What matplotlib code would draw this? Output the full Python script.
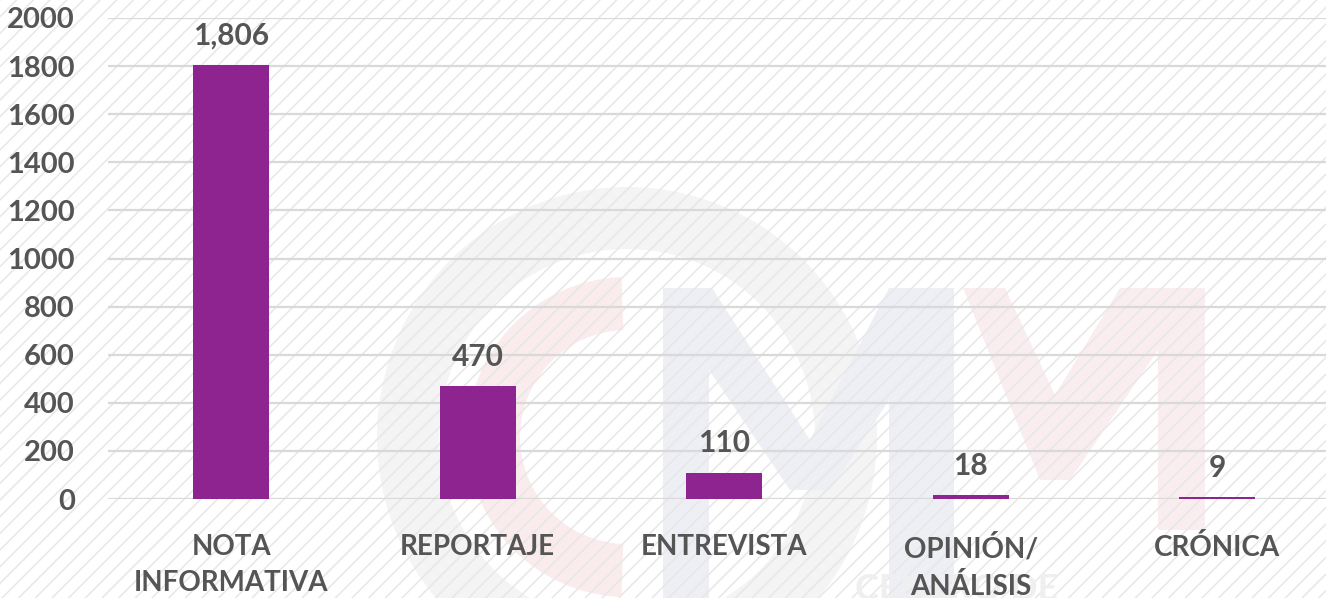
import matplotlib
matplotlib.use("Agg")
import matplotlib.pyplot as plt
from matplotlib.patches import Rectangle, Wedge, Polygon

categories = ["NOTA\nINFORMATIVA", "REPORTAJE", "ENTREVISTA", "OPINIÓN/\nANÁLISIS", "CRÓNICA"]
values = [1806, 470, 110, 18, 9]
y_ticks = [0, 200, 400, 600, 800, 1000, 1200, 1400, 1600, 1800, 2000]

BAR = "#8E2490"
TXT = "#555555"
GRID = "#D9D9D9"
FONT = ["Lato", "DejaVu Sans"]

plt.rcParams["font.family"] = FONT
plt.rcParams["hatch.color"] = "#E7E7E7"
plt.rcParams["hatch.linewidth"] = 1.1

W, H = 1326, 598
fig = plt.figure(figsize=(W / 100, H / 100), dpi=100)
fig.patch.set_facecolor("white")

# background: faint watermark + hatch pattern (pixel coordinates, y downwards)
bg = fig.add_axes([0, 0, 1, 1], zorder=0)
bg.set_xlim(0, W)
bg.set_ylim(H, 0)
bg.axis("off")
bg.add_patch(Wedge((627, 437), 250, 0, 360, width=62, facecolor="#F4F4F4", edgecolor="none"))
bg.add_patch(Wedge((627, 437), 160, 92, 268, width=53, facecolor="#FAEBED", edgecolor="none"))
blue_m = [(663, 600), (663, 288), (712, 288), (810, 440), (889, 288), (954, 288), (954, 600),
          (889, 600), (889, 400), (830, 490), (790, 490), (709, 370), (709, 600)]
bg.add_patch(Polygon(blue_m, closed=True, facecolor="#EEEFF4", edgecolor="none"))
pink_m = [(963, 288), (1005, 288), (1055, 395), (1120, 288), (1205, 288), (1205, 530),
          (1158, 530), (1158, 350), (1070, 480), (1040, 480)]
bg.add_patch(Polygon(pink_m, closed=True, facecolor="#FAEDEF", edgecolor="none"))
bg.text(957, 600, "CENTRO DE", fontsize=26, fontweight="bold", color="#EFEFEF",
        ha="center", va="baseline")
bg.add_patch(Rectangle((0, 0), W, H, fill=False, hatch="//", edgecolor="#E7E7E7", lw=0))

# main chart
ax = fig.add_axes([108 / W, 99 / H, 1232.5 / W, 481 / H], zorder=1)
ax.patch.set_alpha(0)
x = list(range(len(categories)))
ax.bar(x, values, width=0.31, color=BAR, zorder=3)
ax.set_xlim(-0.5, len(categories) - 0.5)
ax.set_ylim(0, 2000)
ax.set_yticks(y_ticks)
ax.set_yticklabels([str(v) for v in y_ticks])
ax.set_xticks(x)
ax.set_xticklabels(categories, linespacing=1.5)
ax.yaxis.grid(True, color=GRID, lw=1.6, zorder=0)
ax.set_axisbelow(True)
for s in ax.spines.values():
    s.set_visible(False)
ax.tick_params(axis="both", length=0, colors=TXT)
ax.tick_params(axis="y", pad=24, labelsize=21)
ax.tick_params(axis="x", pad=25, labelsize=20)
for lab in ax.get_xticklabels() + ax.get_yticklabels():
    lab.set_fontweight("bold")

for xi, v in zip(x, values):
    ax.annotate(f"{v:,}", (xi, v), xytext=(0, 14.5), textcoords="offset points",
                ha="center", va="baseline", fontsize=21.5, fontweight="bold", color=TXT)

fig.savefig("out.png", dpi=100, facecolor="white")
